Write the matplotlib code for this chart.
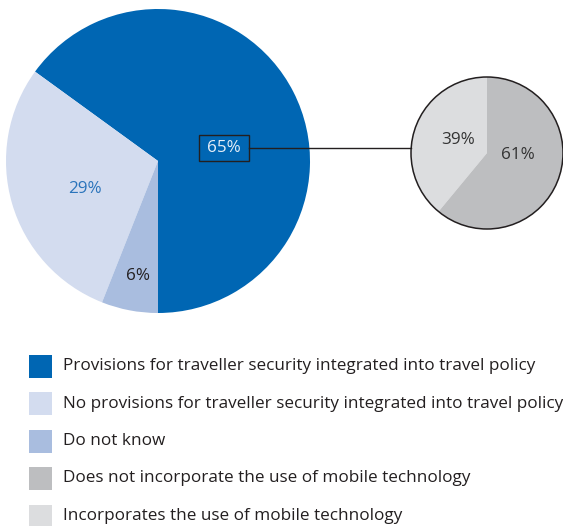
import matplotlib.pyplot as plt
from matplotlib.patches import Rectangle, Circle

plt.rcParams['font.family'] = ['Open Sans', 'DejaVu Sans']

# main pie: traveller security in travel policy
main_labels = ['Provisions for traveller security integrated into travel policy',
               'No provisions for traveller security integrated into travel policy',
               'Do not know']
main_vals = [65, 29, 6]
main_colors = ['#0066b3', '#d3dcef', '#a9bddf']

# breakout pie: mobile technology
sub_labels = ['Incorporates the use of mobile technology',
              'Does not incorporate the use of mobile technology']
sub_vals = [39, 61]
sub_colors = ['#dcdddf', '#bdbec0']

legend_labels = main_labels + [sub_labels[1], sub_labels[0]]
legend_colors = main_colors + [sub_colors[1], sub_colors[0]]

W, H = 563, 526
fig = plt.figure(figsize=(W / 100, H / 100), dpi=100)
ax = fig.add_axes([0, 0, 1, 1])

# y axis is inverted (pixel coords), so counterclock=False reads as counter-clockwise
big_c, big_r = (158, 161), 152
ax.pie(main_vals, colors=main_colors, startangle=90, counterclock=False,
       center=big_c, radius=big_r, frame=True,
       wedgeprops=dict(linewidth=0))

sm_c, sm_r = (487, 153), 76
ax.pie(sub_vals, colors=sub_colors, startangle=-90, counterclock=False,
       center=sm_c, radius=sm_r, frame=True,
       wedgeprops=dict(linewidth=0))
ax.add_patch(Circle(sm_c, sm_r, fill=False, edgecolor='#231f20', linewidth=1.1, zorder=3))

ax.set_xlim(0, W)
ax.set_ylim(H, 0)
ax.set_aspect('equal')
ax.axis('off')

# connector and boxed label
ax.plot([249, sm_c[0] - sm_r], [148, 148], color='#231f20', lw=1.0, zorder=2)
ax.add_patch(Rectangle((199, 135), 50, 26, fill=False, edgecolor='#231f20', lw=1.0, zorder=3))

fs = 12.3
ax.text(224, 148.5, f'{main_vals[0]}%', color='#e6eef8', fontsize=fs, ha='center', va='center', zorder=4)
ax.text(85, 189, f'{main_vals[1]}%', color='#2a74bb', fontsize=fs, ha='center', va='center')
ax.text(138, 276, f'{main_vals[2]}%', color='#231f20', fontsize=fs, ha='center', va='center')
ax.text(458, 140, f'{sub_vals[0]}%', color='#333333', fontsize=fs, ha='center', va='center')
ax.text(518, 155, f'{sub_vals[1]}%', color='#333333', fontsize=fs, ha='center', va='center')

# legend
for i, (lab, col) in enumerate(zip(legend_labels, legend_colors)):
    y = 366 + i * 37.5
    ax.add_patch(Rectangle((29, y - 11.5), 23, 23, facecolor=col, edgecolor='none'))
    ax.text(63, y, lab, fontsize=fs, color='#231f20', va='center', ha='left')

fig.savefig('out.png', dpi=100)
